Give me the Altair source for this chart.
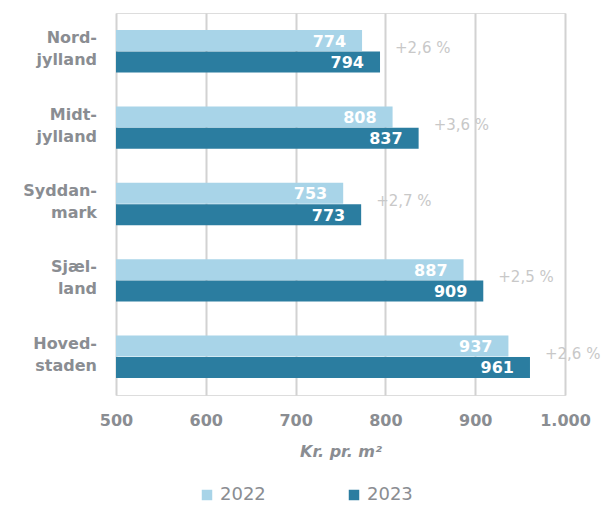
import altair as alt
import pandas as pd

# Average rent per square metre by region, 2022 vs 2023
regions = ["Nord-|jylland", "Midt-|jylland", "Syddan-|mark", "Sjæl-|land", "Hoved-|staden"]
values_2022 = [774, 808, 753, 887, 937]
values_2023 = [794, 837, 773, 909, 961]
growth = ["+2,6 %", "+3,6 %", "+2,7 %", "+2,5 %", "+2,6 %"]
years = ["2022", "2023"]
colors = ["#a8d4e8", "#2b7da0"]

rows = []
for r, a, b in zip(regions, values_2022, values_2023):
    rows.append({"region": r, "year": "2022", "value": a})
    rows.append({"region": r, "year": "2023", "value": b})
bars_df = pd.DataFrame(rows)
growth_df = pd.DataFrame({"region": regions, "value": values_2023, "label": growth})

FONT = "DejaVu Sans"
GREY = "#8a8d92"

y_scale = alt.Scale(domain=regions, paddingInner=0.44, paddingOuter=0.22)

y_enc = alt.Y("region:N", sort=regions, scale=y_scale, axis=None)

x_enc = alt.X(
    "value:Q",
    scale=alt.Scale(domain=[500, 1000], zero=False, nice=False),
    axis=alt.Axis(
        values=[500, 600, 700, 800, 900, 1000],
        labelExpr="replace(format(datum.value, ','), ',', '.')",
        labelFlush=False,
        title="Kr. pr. m²",
        titleFont=FONT,
        titleFontSize=16,
        titleFontStyle="italic",
        titleFontWeight="bold",
        titleColor=GREY,
        titlePadding=15,
        labelFont=FONT,
        labelFontSize=16,
        labelFontWeight="bold",
        labelColor=GREY,
        labelPadding=17,
        domain=False,
        ticks=False,
        grid=True,
        gridColor="#d2d2d2",
        gridWidth=2,
    ),
)

color_enc = alt.Color(
    "year:N",
    scale=alt.Scale(domain=years, range=colors),
    legend=alt.Legend(
        title=None,
        orient="none",
        legendX=82,
        legendY=473,
        direction="horizontal",
        symbolType="square",
        symbolSize=110,
        symbolStrokeWidth=0,
        labelFont=FONT,
        labelFontSize=18,
        labelColor=GREY,
        labelOffset=4,
        columnPadding=79,
    ),
)

base = alt.Chart(bars_df).encode(
    y=y_enc,
    yOffset=alt.YOffset("year:N", sort=years, scale=alt.Scale(paddingInner=0.0)),
)

bars = base.mark_bar(size=21, clip=True).encode(x=x_enc, color=color_enc)

values = base.mark_text(
    align="right", baseline="middle", dx=-16, dy=1,
    font=FONT, fontSize=16, fontWeight="bold", color="white",
).encode(x="value:Q", text="value:Q")

pct = alt.Chart(growth_df).mark_text(
    align="left", baseline="middle", dx=15, dy=-3,
    font=FONT, fontSize=15, color="#c8c8c8",
).encode(
    y=y_enc,
    x="value:Q",
    text="label:N",
)

# two-line region names to the left of the plot
region_labels = alt.Chart(growth_df).mark_text(
    align="right", baseline="middle", lineBreak="|", lineHeight=22, dy=-13,
    font=FONT, fontSize=16, fontWeight="bold", color=GREY,
).encode(
    y=y_enc,
    x=alt.value(-19),
    text="region:N",
)

chart = (
    alt.layer(bars, values, pct, region_labels)
    .properties(
        width=449,
        height=382,
        autosize=alt.AutoSizeParams(type="none"),
        padding={"left": 116, "top": 13, "right": 39, "bottom": 110},
    )
    .configure_view(stroke=None)
    .configure(background="white")
)

chart.save("out.html", embed_options={"renderer": "svg", "actions": False})
